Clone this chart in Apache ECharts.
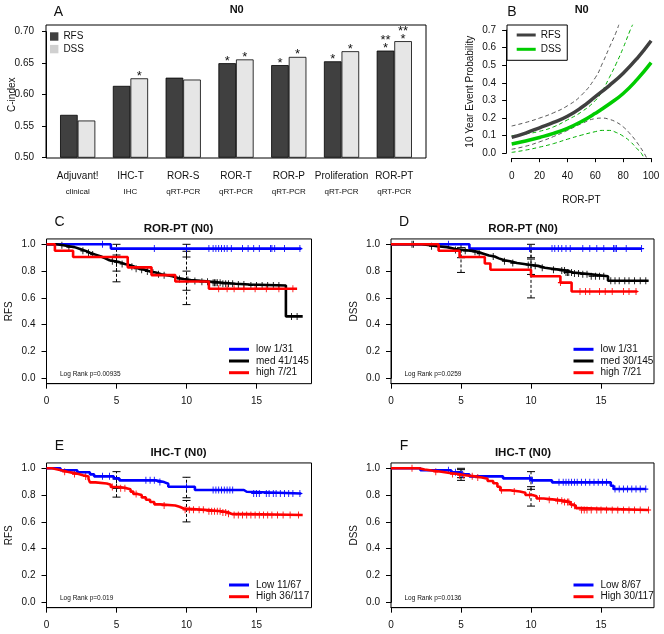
<!DOCTYPE html>
<html><head><meta charset="utf-8">
<script src="https://cdn.jsdelivr.net/npm/echarts@6/dist/echarts.min.js"></script>
<style>html,body{margin:0;padding:0;background:#fff}#c{width:664px;height:634px}</style>
</head><body><div id="c"></div>
<script>
// ================= DATA =================
// Panel A : C-index bars
const aCategories = ['Adjuvant!', 'IHC-T', 'ROR-S', 'ROR-T', 'ROR-P', 'Proliferation', 'ROR-PT'];
const aSubLabels = ['clinical', 'IHC', 'qRT-PCR', 'qRT-PCR', 'qRT-PCR', 'qRT-PCR', 'qRT-PCR'];
const aRFS = [0.568, 0.614, 0.627, 0.650, 0.647, 0.653, 0.670];
const aDSS = [0.559, 0.626, 0.624, 0.656, 0.660, 0.669, 0.685];
const aRFSStars = ['', '', '', '*', '*', '*', '**\n*'];
const aDSSStars = ['', '*', '', '*', '*', '*', '**\n*'];
const aYTicks = [0.50, 0.55, 0.60, 0.65, 0.70];

// Panel B : 10-year event probability vs ROR-PT
const bXTicks = [0, 20, 40, 60, 80, 100];
const bYTicks = [0.0, 0.1, 0.2, 0.3, 0.4, 0.5, 0.6, 0.7];
const bX = [0, 10, 20, 30, 40, 50, 60, 70, 80, 90, 100];
const bRFS = [0.090, 0.115, 0.145, 0.175, 0.210, 0.260, 0.322, 0.385, 0.455, 0.540, 0.640];
const bDSS = [0.053, 0.070, 0.090, 0.113, 0.142, 0.180, 0.227, 0.280, 0.340, 0.420, 0.515];
const bRFSUpX = [0, 10, 20, 30, 40, 50, 60, 65, 70, 75, 77];
const bRFSUpY = [0.155, 0.175, 0.200, 0.230, 0.270, 0.330, 0.430, 0.510, 0.600, 0.690, 0.735];
const bRFSLoX = [0, 10, 20, 30, 40, 50, 60, 65, 70, 75, 80, 85, 90, 95, 97];
const bRFSLoY = [0.023, 0.040, 0.065, 0.095, 0.130, 0.168, 0.197, 0.200, 0.193, 0.177, 0.150, 0.110, 0.060, 0.000, -0.030];
const bDSSUpX = [0, 10, 20, 30, 40, 50, 60, 65, 70, 75, 80, 85, 87];
const bDSSUpY = [0.100, 0.110, 0.125, 0.150, 0.190, 0.235, 0.300, 0.355, 0.430, 0.510, 0.600, 0.700, 0.735];
const bDSSLoX = [0, 10, 20, 30, 40, 50, 60, 65, 70, 75, 80, 85, 90, 93, 95];
const bDSSLoY = [0.005, 0.018, 0.035, 0.055, 0.080, 0.103, 0.123, 0.130, 0.130, 0.118, 0.097, 0.067, 0.025, 0.000, -0.030];

// Kaplan-Meier panels (times in years, survival)
const kmXTicks = [0, 5, 10, 15];
const kmYTicks = [0.0, 0.2, 0.4, 0.6, 0.8, 1.0];

// C : ROR-PT (N0) RFS
const cLowT = [0, 4.6, 18.2];
const cLowS = [1, 0.968, 0.968];
const cLowCens = [4.0, 7.7, 10.0, 11.6, 11.9, 12.1, 12.3, 12.5, 12.7, 12.9, 13.2, 14.0, 14.4, 14.8, 15.2, 16.0, 16.1, 16.3, 17.0, 18.1];
const cMedT = [0, 0.7, 1.2, 1.6, 2.0, 2.4, 2.8, 3.1, 3.5, 3.9, 4.2, 4.5, 4.9, 5.2, 5.6, 5.9, 6.3, 6.6, 7.0, 7.4, 7.8, 8.2, 8.6, 9.0, 9.4, 9.8, 10.3, 11.0, 11.8, 12.6, 13.5, 14.5, 17.1, 18.3];
const cMedS = [1, 0.993, 0.986, 0.979, 0.965, 0.951, 0.937, 0.923, 0.909, 0.895, 0.881, 0.874, 0.867, 0.853, 0.846, 0.832, 0.818, 0.811, 0.797, 0.790, 0.776, 0.769, 0.762, 0.748, 0.741, 0.734, 0.727, 0.720, 0.713, 0.706, 0.700, 0.693, 0.462, 0.462];
const cMedCens = [1.1, 1.6, 2.6, 3.0, 3.3, 4.7, 5.0, 5.4, 6.1, 6.4, 6.8, 7.2, 7.6, 8.0, 8.4, 9.5, 10.1, 10.6, 11.1, 11.5, 11.9, 12.0, 12.1, 12.2, 12.4, 12.6, 12.8, 13.0, 13.3, 13.7, 14.1, 14.6, 15.0, 15.4, 15.8, 16.2, 16.6, 17.5, 17.9];
const cHighT = [0, 0.6, 1.9, 5.8, 7.5, 9.2, 11.6, 17.9];
const cHighS = [1, 0.952, 0.905, 0.828, 0.770, 0.722, 0.668, 0.668];
const cHighCens = [12.3, 12.9, 13.4, 14.1, 14.9, 15.7, 16.6, 17.6];
const cCI = [[5, 0.80, 0.92], [5, 0.72, 1.0], [10, 0.905, 1.0], [10, 0.657, 0.80], [10, 0.55, 0.948]];

// D : ROR-PT (N0) DSS
const dLowT = [0, 5.6, 17.9];
const dLowS = [1, 0.968, 0.968];
const dLowCens = [4.1, 9.9, 11.5, 11.7, 11.95, 12.2, 12.5, 12.8, 13.7, 14.2, 14.7, 15.2, 15.9, 16.0, 16.1, 16.8, 17.9];
const dMedT = [0, 2.2, 2.8, 3.3, 4.0, 4.6, 5.2, 5.8, 6.2, 6.6, 7.0, 7.4, 7.7, 8.1, 8.5, 9.0, 9.5, 10.0, 10.5, 11.0, 11.5, 12.0, 12.5, 13.0, 13.6, 14.3, 15.5, 18.4];
const dMedS = [1, 0.993, 0.986, 0.979, 0.965, 0.958, 0.951, 0.944, 0.930, 0.916, 0.909, 0.895, 0.881, 0.874, 0.860, 0.853, 0.846, 0.839, 0.825, 0.818, 0.811, 0.804, 0.790, 0.783, 0.776, 0.762, 0.728, 0.728];
const dMedCens = [1.5, 1.6, 2.9, 4.6, 5.3, 6.0, 6.3, 7.3, 8.1, 8.7, 9.8, 10.3, 10.8, 11.6, 12.2, 12.4, 12.5, 12.6, 12.7, 12.9, 13.1, 13.4, 13.7, 14.0, 14.3, 14.6, 14.9, 15.2, 15.7, 16.0, 16.3, 16.7, 17.0, 17.4, 17.8, 18.2];
const dHighT = [0, 3.4, 4.9, 6.7, 7.1, 10.0, 12.1, 12.9, 17.6];
const dHighS = [1, 0.952, 0.905, 0.857, 0.810, 0.762, 0.714, 0.648, 0.648];
const dHighCens = [12.1, 13.5, 13.9, 14.2, 14.9, 15.3, 15.8, 16.6, 17.0, 17.5];
const dCI = [[5, 0.90, 0.975], [5, 0.79, 1.0], [10, 0.90, 1.0], [10, 0.775, 0.89], [10, 0.60, 0.97]];

// E : IHC-T (N0) RFS
const eLowT = [0, 1.0, 2.2, 3.1, 3.4, 4.8, 5.2, 7.8, 8.4, 8.7, 10.6, 14.1, 14.3, 18.2];
const eLowS = [1, 0.985, 0.970, 0.955, 0.940, 0.925, 0.910, 0.897, 0.885, 0.862, 0.838, 0.825, 0.812, 0.812];
const eLowCens = [4.0, 4.5, 7.1, 7.4, 7.7, 8.1, 10.0, 11.9, 12.1, 12.3, 12.5, 12.7, 12.9, 13.1, 13.3, 14.8, 15.0, 15.2, 15.7, 15.9, 16.2, 16.4, 16.7, 17.0, 17.3, 17.6, 18.1];
const eHighT = [0, 0.4, 0.8, 1.2, 1.5, 1.9, 2.3, 2.6, 3.0, 3.1, 3.5, 4.3, 4.6, 5.2, 5.7, 6.0, 6.2, 6.5, 6.8, 7.1, 7.4, 7.7, 8.1, 9.2, 9.5, 9.8, 11.3, 12.5, 13.0, 13.2, 18.3];
const eHighS = [1, 0.991, 0.982, 0.974, 0.966, 0.957, 0.948, 0.939, 0.921, 0.895, 0.887, 0.878, 0.861, 0.852, 0.843, 0.826, 0.809, 0.800, 0.783, 0.765, 0.748, 0.731, 0.722, 0.713, 0.700, 0.690, 0.680, 0.671, 0.661, 0.652, 0.652];
const eHighCens = [1.3, 2.0, 2.8, 4.7, 5.3, 5.6, 6.4, 8.4, 9.9, 10.2, 10.5, 10.9, 11.2, 11.6, 11.8, 12.0, 12.2, 12.4, 12.6, 12.8, 13.0, 13.4, 13.7, 14.0, 14.3, 14.6, 14.9, 15.2, 15.5, 15.8, 16.1, 16.5, 16.9, 17.4, 18.0];
const eCI = [[5, 0.85, 0.975], [5, 0.785, 0.92], [10, 0.78, 0.933], [10, 0.60, 0.76]];

// F : IHC-T (N0) DSS
const fLowT = [0, 2.1, 4.3, 5.0, 5.6, 8.0, 10.0, 11.5, 15.7, 15.9, 18.2];
const fLowS = [1, 0.985, 0.970, 0.955, 0.940, 0.925, 0.910, 0.895, 0.870, 0.845, 0.845];
const fLowCens = [4.1, 4.6, 5.1, 9.9, 10.1, 12.0, 12.3, 12.5, 12.7, 12.9, 13.1, 13.3, 13.6, 13.9, 14.2, 14.5, 14.8, 15.1, 15.4, 16.0, 16.3, 16.6, 16.9, 17.2, 17.5, 17.8, 18.2];
const fHighT = [0, 2.0, 2.4, 2.9, 3.6, 4.2, 4.8, 5.3, 6.0, 6.5, 6.9, 7.3, 7.6, 7.8, 8.5, 9.2, 9.6, 10.1, 10.4, 10.9, 11.7, 12.4, 12.8, 13.0, 13.2, 13.5, 18.4];
const fHighS = [1, 0.991, 0.983, 0.974, 0.965, 0.957, 0.948, 0.940, 0.931, 0.922, 0.905, 0.888, 0.862, 0.836, 0.827, 0.818, 0.801, 0.792, 0.775, 0.766, 0.757, 0.748, 0.730, 0.721, 0.703, 0.689, 0.689];
const fHighCens = [1.5, 3.2, 4.4, 4.9, 5.2, 5.8, 6.2, 7.9, 8.8, 9.9, 10.6, 11.3, 11.9, 12.2, 12.4, 12.6, 12.7, 12.9, 13.1, 13.6, 13.8, 14.0, 14.3, 14.7, 15.0, 15.4, 15.8, 16.2, 16.6, 17.0, 17.4, 17.8, 18.4];
const fCI = [[5, 0.93, 1.0], [5, 0.91, 0.99], [10, 0.843, 0.975], [10, 0.718, 0.863]];

// ================= CHART =================
const FONT = "'Liberation Sans', Arial, sans-serif";
const TXT = '#111';
const grids = [], xAxes = [], yAxes = [], series = [], legends = [], texts = [];

function addGrid(l, t, w, h, border) {
  grids.push({left: l, top: t, width: w, height: h, show: !!border, borderColor: '#000', borderWidth: 1,
    backgroundColor: 'transparent', containLabel: false, outerBoundsMode: 'none'});
  return grids.length - 1;
}
function hidden(gi, min, max) { return {gridIndex: gi, type: 'value', min: min, max: max, show: false}; }
function addX(o) { xAxes.push(o); return xAxes.length - 1; }
function addY(o) { yAxes.push(o); return yAxes.length - 1; }
function visAxis(gi, ticks, offset, margin, fmt, extra) {
  return Object.assign({
    gridIndex: gi, type: 'value', min: ticks[0], max: ticks[ticks.length - 1],
    interval: +(ticks[1] - ticks[0]).toFixed(6), offset: offset,
    axisLine: {show: true, onZero: false, lineStyle: {color: '#000', width: 1}},
    axisTick: {show: true, length: 4, lineStyle: {color: '#000', width: 1}},
    splitLine: {show: false},
    axisLabel: {margin: margin, fontSize: 10, color: TXT, fontFamily: FONT, formatter: fmt, showMinLabel: true, showMaxLabel: true, hideOverlap: false},
    nameMoveOverlap: false,
    nameTextStyle: {fontSize: 10, color: TXT, fontFamily: FONT}
  }, extra || {});
}
function text(x, y, s, size, bold, align) {
  texts.push({type: 'text', x: x, y: y, silent: true,
    style: {text: s, fontSize: size, fontWeight: bold ? 'bold' : 'normal', fontFamily: FONT, fill: TXT,
      align: align || 'center', verticalAlign: 'middle'}});
}
function zip(a, b) { return a.map((v, i) => [v, b[i]]); }
function stepAt(T, S, t) { let s = S[0]; for (let i = 0; i < T.length; i++) { if (T[i] <= t) s = S[i]; } return s; }

// ---------- Panel A ----------
const gAbox = addGrid(46, 25, 380, 133, true);
addX(hidden(gAbox, 0, 1)); addY(hidden(gAbox, 0, 1));
const gAbar = addGrid(51.3, 31.7, 369.4, 126, false);
const axA = addX({gridIndex: gAbar, type: 'category', data: aCategories,
  axisLine: {show: false}, axisTick: {show: false},
  axisLabel: {margin: 12, interval: 0,
    formatter: (v, i) => '{a|' + v + '}\n{b|' + aSubLabels[i] + '}',
    rich: {a: {fontSize: 10, lineHeight: 14, color: TXT, fontFamily: FONT},
           b: {fontSize: 8, lineHeight: 16, color: TXT, fontFamily: FONT}}}});
const ayA = addY(visAxis(gAbar, aYTicks, 5.3, 12, v => v.toFixed(2),
  {name: 'C-index', nameLocation: 'middle', nameGap: 29, startValue: aYTicks[0]}));
const starLabel = (arr) => ({show: true, position: 'top', distance: -2, fontSize: 13, lineHeight: 8,
  color: TXT, fontFamily: FONT, formatter: p => arr[p.dataIndex]});
series.push({type: 'bar', name: 'RFS', xAxisIndex: axA, yAxisIndex: ayA, data: aRFS, barWidth: 17.6, barGap: '0%',
  itemStyle: {color: '#404040', borderColor: '#000', borderWidth: 0.8}, label: starLabel(aRFSStars)});
series.push({type: 'bar', name: 'DSS', xAxisIndex: axA, yAxisIndex: ayA, data: aDSS, barWidth: 17.6, barGap: '0%',
  itemStyle: {color: '#e6e6e6', borderColor: '#000', borderWidth: 0.8}, label: starLabel(aDSSStars)});
legends.push({left: 50, top: 31.5, orient: 'vertical', icon: 'rect', itemWidth: 8.4, itemHeight: 8.4, itemGap: 2.6,
  selectedMode: false, padding: 0, itemStyle: {borderWidth: 0},
  textStyle: {fontSize: 10, lineHeight: 10, color: TXT, fontFamily: FONT},
  data: [{name: 'RFS', itemStyle: {color: '#404040', borderWidth: 0}}, {name: 'DSS', itemStyle: {color: '#d0d0d0', borderWidth: 0}}]});
text(58.5, 11.7, 'A', 14, false);
text(236.7, 10, 'N0', 11, true);

// ---------- Panel B ----------
const gBax = addGrid(511.7, 30.1, 139.3, 123.2, false);
addX(visAxis(gBax, bXTicks, 4.9, 13, v => String(v), {name: 'ROR-PT', nameLocation: 'middle', nameGap: 37}));
addY(visAxis(gBax, bYTicks, 5.6, 10, v => v.toFixed(1), {name: '10 Year Event Probability', nameLocation: 'middle', nameGap: 31}));
const gBd = addGrid(506.1, 25.2, 150.6, 133, false);
const bxd = addX(hidden(gBd, -4, 104));
const byd = addY(hidden(gBd, -0.028, 0.728));
function bLine(name, xs, ys, color, width, dashed) {
  series.push({type: 'line', name: name, xAxisIndex: bxd, yAxisIndex: byd, data: zip(xs, ys), smooth: true,
    showSymbol: false, clip: true, silent: true, itemStyle: {color: color},
    lineStyle: {color: color, width: width, type: dashed ? [4, 3] : 'solid'}});
}
bLine('rfs-up', bRFSUpX, bRFSUpY, '#555555', 1, true);
bLine('rfs-lo', bRFSLoX, bRFSLoY, '#555555', 1, true);
bLine('dss-up', bDSSUpX, bDSSUpY, '#00b000', 1, true);
bLine('dss-lo', bDSSLoX, bDSSLoY, '#00b000', 1, true);
bLine('RFS ', bX, bRFS, '#404040', 3.5, false);
bLine('DSS ', bX, bDSS, '#00cc00', 3.5, false);
legends.push({left: 507, top: 25, orient: 'vertical', icon: 'rect', itemWidth: 19, itemHeight: 3, itemGap: 2.3,
  selectedMode: false, padding: [4, 6, 5, 9.7], borderColor: '#000', borderWidth: 1,
  textStyle: {fontSize: 10, lineHeight: 12, color: TXT, fontFamily: FONT}, formatter: n => n.trim(),
  data: ['RFS ', 'DSS ']});
text(512, 11.7, 'B', 14, false);
text(581.7, 10, 'N0', 11, true);

// ---------- KM panels ----------
const KM_YPX = 134, KM_XPX = 14;
const kmPanels = [
  {left: 46.5, width: 265, y1: 244.3, letter: 'C', title: 'ROR-PT (N0)', yName: 'RFS', lr: 'Log Rank p=0.00935', ci: cCI,
   curves: [{name: 'low 1/31', color: '#0000ff', T: cLowT, S: cLowS, cens: cLowCens},
            {name: 'med 41/145', color: '#000000', T: cMedT, S: cMedS, cens: cMedCens},
            {name: 'high 7/21', color: '#ff0000', T: cHighT, S: cHighS, cens: cHighCens}]},
  {left: 391, width: 263, y1: 244.3, letter: 'D', title: 'ROR-PT (N0)', yName: 'DSS', lr: 'Log Rank p=0.0259', ci: dCI,
   curves: [{name: 'low 1/31', color: '#0000ff', T: dLowT, S: dLowS, cens: dLowCens},
            {name: 'med 30/145', color: '#000000', T: dMedT, S: dMedS, cens: dMedCens},
            {name: 'high 7/21', color: '#ff0000', T: dHighT, S: dHighS, cens: dHighCens}]},
  {left: 46.5, width: 265, y1: 468.3, letter: 'E', title: 'IHC-T (N0)', yName: 'RFS', lr: 'Log Rank p=0.019', ci: eCI,
   curves: [{name: 'Low 11/67', color: '#0000ff', T: eLowT, S: eLowS, cens: eLowCens},
            {name: 'High 36/117', color: '#ff0000', T: eHighT, S: eHighS, cens: eHighCens}]},
  {left: 391, width: 263, y1: 468.3, letter: 'F', title: 'IHC-T (N0)', yName: 'DSS', lr: 'Log Rank p=0.0136', ci: fCI,
   curves: [{name: 'Low 8/67', color: '#0000ff', T: fLowT, S: fLowS, cens: fLowCens},
            {name: 'High 30/117', color: '#ff0000', T: fHighT, S: fHighS, cens: fHighCens}]}
];
const CENS = 'path://M4,0L4,8M0,4L8,4';
kmPanels.forEach((p, pi) => {
  const gd = addGrid(p.left, p.y1 - 0.04 * KM_YPX, p.width, 1.08 * KM_YPX, true);
  const xd = addX(hidden(gd, 0, p.width / KM_XPX));
  const yd = addY(hidden(gd, -0.04, 1.04));
  const ga = addGrid(p.left, p.y1, (kmXTicks[kmXTicks.length - 1]) * KM_XPX, KM_YPX, false);
  addX(visAxis(ga, kmXTicks, 0.04 * KM_YPX, 13, v => String(v), {axisTick: {show: true, length: 5, lineStyle: {color: '#000'}}}));
  addY(visAxis(ga, kmYTicks, 0, 11, v => v.toFixed(1), {name: p.yName, nameLocation: 'middle', nameGap: 32,
    axisTick: {show: true, length: 5, lineStyle: {color: '#000'}}}));
  p.curves.forEach((c, ci) => {
    series.push({type: 'line', name: c.name, xAxisIndex: xd, yAxisIndex: yd, data: zip(c.T, c.S), step: 'end',
      showSymbol: false, silent: true, itemStyle: {color: c.color}, lineStyle: {color: c.color, width: 2.6}});
    series.push({type: 'scatter', name: 'cens-' + pi + '-' + ci, xAxisIndex: xd, yAxisIndex: yd,
      data: c.cens.map(t => [t, stepAt(c.T, c.S, t)]), symbol: CENS, symbolSize: [5, 7], silent: true,
      itemStyle: {color: 'none', borderColor: c.color, borderWidth: 1, opacity: 1}});
  });
  series.push({type: 'custom', name: 'ci-' + pi, xAxisIndex: xd, yAxisIndex: yd, data: p.ci, silent: true,
    encode: {x: 0, y: [1, 2]},
    renderItem: (params, api) => {
      const lo = api.coord([api.value(0), api.value(1)]);
      const hi = api.coord([api.value(0), api.value(2)]);
      const st = {stroke: '#000', lineWidth: 1};
      return {type: 'group', children: [
        {type: 'line', shape: {x1: lo[0], y1: lo[1], x2: hi[0], y2: hi[1]}, style: {stroke: '#000', lineWidth: 1, lineDash: [3, 2]}},
        {type: 'line', shape: {x1: lo[0] - 4, y1: lo[1], x2: lo[0] + 4, y2: lo[1]}, style: st},
        {type: 'line', shape: {x1: hi[0] - 4, y1: hi[1], x2: hi[0] + 4, y2: hi[1]}, style: st}]};
    }});
  const n = p.curves.length;
  legends.push({left: p.left + 182.5, top: p.y1 + 128.4 - (n - 0.5) * 11.7, orient: 'vertical', icon: 'rect',
    itemWidth: 20, itemHeight: 3, itemGap: 0, selectedMode: false, padding: 0,
    textStyle: {fontSize: 10, lineHeight: 11.7, color: TXT, fontFamily: FONT, padding: [0, 0, 0, 2]},
    data: p.curves.map(c => ({name: c.name, itemStyle: {color: c.color}}))});
  text(p.left + 13, p.y1 - 22.3, p.letter, 14, false);
  text(p.left + 132, p.y1 - 15.2, p.title, 11.5, true);
  texts.push({type: 'text', x: p.left + 13.5, y: p.y1 + 130.3, silent: true,
    style: {text: p.lr, fontSize: 6.5, fontFamily: FONT, fill: TXT, align: 'left', verticalAlign: 'middle'}});
});

const chart = echarts.init(document.getElementById('c'), null, {renderer: 'canvas', width: 664, height: 634});
chart.setOption({
  animation: false,
  backgroundColor: '#fff',
  textStyle: {fontFamily: FONT},
  grid: grids, xAxis: xAxes, yAxis: yAxes, series: series, legend: legends,
  graphic: {elements: texts}
});
</script></body></html>
